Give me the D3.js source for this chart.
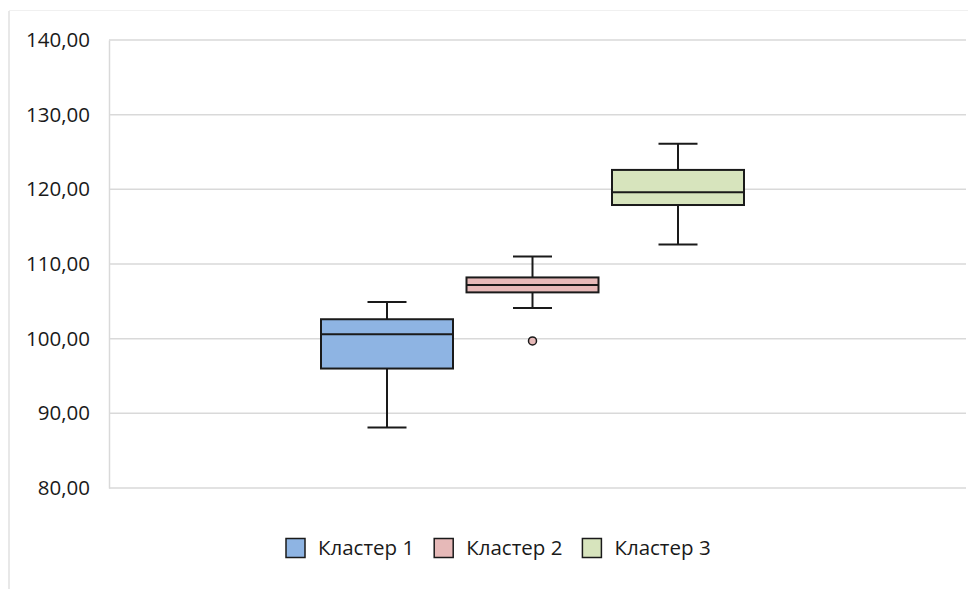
<!DOCTYPE html>
<html>
<head>
<meta charset="utf-8">
<script src="https://cdn.jsdelivr.net/npm/d3@7"></script>
<style>
  html, body { margin: 0; padding: 0; background: #fff; }
  svg { display: block; font-family: "Open Sans", "Noto Sans", sans-serif; }
</style>
</head>
<body>
<svg id="chart" width="968" height="589"></svg>
<script>
// Cluster names and box-plot statistics
const clusters = ["Кластер 1", "Кластер 2", "Кластер 3"];
const whiskerLow  = [88.1, 104.1, 112.6];
const quartile1   = [96.0, 106.2, 117.9];
const medians     = [100.6, 107.2, 119.6];
const quartile3   = [102.6, 108.2, 122.6];
const whiskerHigh = [104.9, 111.0, 126.1];
const outliers    = [[], [99.7], []];
const fills       = ["#8eb4e3", "#e6b9b8", "#d7e4bd"];
const yTicks      = [80, 90, 100, 110, 120, 130, 140];

const svg = d3.select("#chart");
const W = 968, H = 589;
const plot = { left: 109, right: 966, top: 40, bottom: 488 };

// Chart area frame
svg.append("line").attr("x1", 9).attr("x2", 9).attr("y1", 11).attr("y2", H)
  .attr("stroke", "#d9d9d9").attr("stroke-width", 1.2);
svg.append("line").attr("x1", 9).attr("x2", W).attr("y1", 10.5).attr("y2", 10.5)
  .attr("stroke", "#f0f0f0").attr("stroke-width", 1);

const y = d3.scaleLinear().domain([80, 140]).range([plot.bottom, plot.top]);
const x = d3.scalePoint().domain(clusters).range([387, 678]);
const boxW = 132, capW = 39;

// Gridlines
svg.append("g").selectAll("line").data(yTicks).join("line")
  .attr("x1", plot.left).attr("x2", plot.right)
  .attr("y1", d => y(d)).attr("y2", d => y(d))
  .attr("stroke", "#d9d9d9").attr("stroke-width", 1.5);

// Value axis
const fmt = d => d3.format(".2f")(d).replace(".", ",");
const yAxis = svg.append("g").attr("transform", `translate(${plot.left},0)`)
  .call(d3.axisLeft(y).tickValues(yTicks).tickFormat(fmt).tickSize(0).tickPadding(19));
yAxis.select(".domain").attr("stroke", "#d9d9d9").attr("stroke-width", 1.5);
yAxis.selectAll("text").attr("font-size", 20.5).attr("fill", "#1a1a1a")
  .attr("font-family", "\"Open Sans\", sans-serif");

const stroke = "#1a1a1a", sw = 2;

clusters.forEach((c, i) => {
  const g = svg.append("g");
  const cx = x(c);
  // whisker stems
  g.append("line").attr("x1", cx).attr("x2", cx)
    .attr("y1", y(quartile3[i])).attr("y2", y(whiskerHigh[i]))
    .attr("stroke", stroke).attr("stroke-width", sw);
  g.append("line").attr("x1", cx).attr("x2", cx)
    .attr("y1", y(quartile1[i])).attr("y2", y(whiskerLow[i]))
    .attr("stroke", stroke).attr("stroke-width", sw);
  // caps
  [whiskerHigh[i], whiskerLow[i]].forEach(v => {
    g.append("line").attr("x1", cx - capW / 2).attr("x2", cx + capW / 2)
      .attr("y1", y(v)).attr("y2", y(v))
      .attr("stroke", stroke).attr("stroke-width", sw);
  });
  // box
  g.append("rect").attr("x", cx - boxW / 2).attr("width", boxW)
    .attr("y", y(quartile3[i])).attr("height", y(quartile1[i]) - y(quartile3[i]))
    .attr("fill", fills[i]).attr("stroke", stroke).attr("stroke-width", sw);
  // median
  g.append("line").attr("x1", cx - boxW / 2).attr("x2", cx + boxW / 2)
    .attr("y1", y(medians[i])).attr("y2", y(medians[i]))
    .attr("stroke", stroke).attr("stroke-width", sw);
  // outliers
  g.selectAll("circle").data(outliers[i]).join("circle")
    .attr("cx", cx).attr("cy", d => y(d)).attr("r", 4)
    .attr("fill", fills[i]).attr("stroke", stroke).attr("stroke-width", 1.5);
});

// Legend
const legend = svg.append("g").attr("transform", "translate(286,548)");
let lx = 0;
clusters.forEach((c, i) => {
  const item = legend.append("g").attr("transform", `translate(${lx},0)`);
  item.append("rect").attr("x", 0).attr("y", -9.5).attr("width", 19).attr("height", 19)
    .attr("fill", fills[i]).attr("stroke", stroke).attr("stroke-width", 1.5);
  const t = item.append("text").attr("x", 32).attr("y", 0).attr("dy", "0.35em")
    .attr("font-size", 20.5).attr("fill", "#1a1a1a").text(c);
  lx += 32 + t.node().getComputedTextLength() + 20;
});
</script>
</body>
</html>
